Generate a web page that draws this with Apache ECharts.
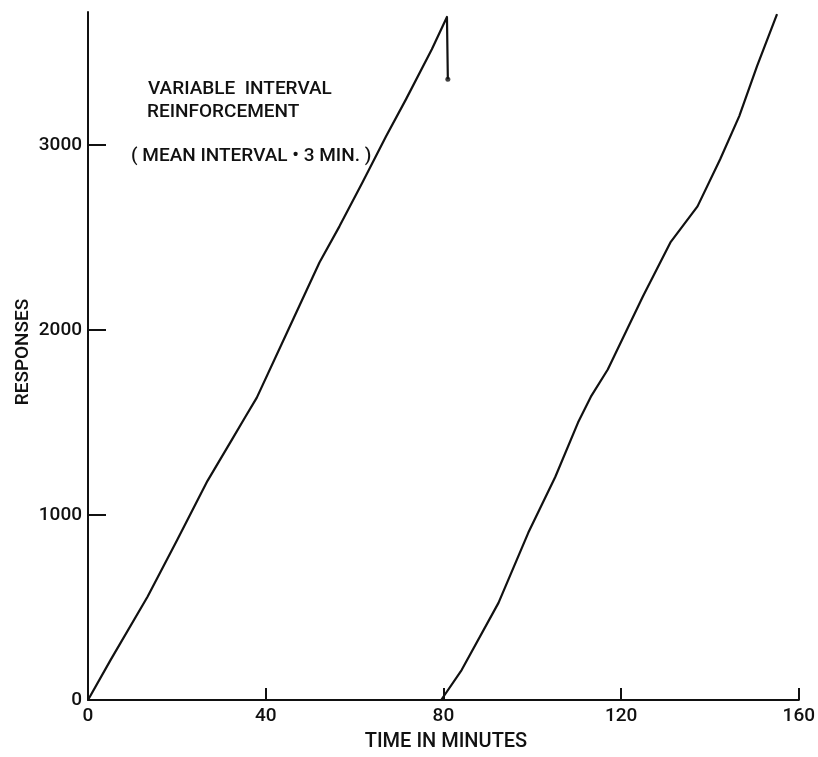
<!DOCTYPE html>
<html>
<head>
<meta charset="utf-8">
<style>html,body{margin:0;padding:0;background:#fff}#c{width:818px;height:757px}</style>
<script src="https://cdn.jsdelivr.net/npm/echarts@6/dist/echarts.min.js"></script>
</head>
<body>
<div id="c"></div>
<script>
// Session 1 (first 80 min) — time in minutes, cumulative responses
const session1Time = [0, 5.1, 13.4, 20.1, 26.9, 32.7, 35.4, 38.0, 44.8, 52.1, 56.6, 61.8, 67.1, 71.6, 77.4, 80.8, 81.0];
const session1Resp = [0, 217, 558, 866, 1185, 1420, 1530, 1635, 1987, 2366, 2561, 2799, 3048, 3249, 3519, 3693, 3357];
// Session 2 (second 80 min)
const session2Time = [79.5, 84.1, 92.4, 99.1, 105.2, 110.3, 113.2, 117.0, 124.9, 131.1, 137.2, 142.3, 146.6, 150.6, 155.1];
const session2Resp = [0, 162, 525, 904, 1207, 1500, 1640, 1787, 2182, 2474, 2669, 2924, 3157, 3427, 3709];
// Pen reset marker (end of the downward stroke)
const resetTime = [81.0];
const resetResp = [3357];
// Ticks
const xTicks = [0, 40, 80, 120, 160];
const yTicks = [0, 1000, 2000, 3000];
const annotationLines = ["VARIABLE  INTERVAL", "REINFORCEMENT", "( MEAN INTERVAL • 3 MIN. )"];
const xTitle = "TIME IN MINUTES";
const yTitle = "RESPONSES";

const zip = (a, b) => a.map((v, i) => [v, b[i]]);
const font = "Roboto";
const ink = "#111";
const txt = (size) => '500 ' + size + 'px ' + font;

const chart = echarts.init(document.getElementById('c'), null, {renderer: 'canvas'});
chart.setOption({
  backgroundColor: '#fff',
  animation: false,
  grid: {left: 88, right: 16, top: 12, bottom: 57},
  xAxis: {
    type: 'value', min: 0, max: 160, interval: 40,
    axisLine: {show: true, onZero: false, lineStyle: {color: ink, width: 2}},
    axisTick: {show: true, inside: true, length: 12, lineStyle: {color: ink, width: 2}, customValues: xTicks},
    axisLabel: {color: ink, fontFamily: font, fontWeight: 500, fontSize: 19, margin: 7, customValues: xTicks,
                formatter: v => String(v)},
    splitLine: {show: false}
  },
  yAxis: {
    type: 'value', min: 0, max: 3720,
    axisLine: {show: true, onZero: false, lineStyle: {color: ink, width: 2}},
    axisTick: {show: true, inside: true, length: 18, lineStyle: {color: ink, width: 2}, customValues: yTicks.filter(v => v > 0)},
    axisLabel: {color: ink, fontFamily: font, fontWeight: 500, fontSize: 19, margin: 6, customValues: yTicks,
                formatter: v => String(v)},
    splitLine: {show: false}
  },
  series: [
    {type: 'line', data: zip(session1Time, session1Resp), symbol: 'none',
     lineStyle: {color: ink, width: 2.2, join: 'round'}},
    {type: 'line', data: zip(session2Time, session2Resp), symbol: 'none',
     lineStyle: {color: ink, width: 2.2, join: 'round'}},
    {type: 'scatter', data: zip(resetTime, resetResp), symbol: 'circle', symbolSize: 5,
     itemStyle: {color: ink}}
  ],
  graphic: [
    {type: 'text', left: 148, top: 80, style: {text: annotationLines[0], fill: ink, font: txt(19)}},
    {type: 'text', left: 147, top: 103, style: {text: annotationLines[1], fill: ink, font: txt(19)}},
    {type: 'text', left: 131, top: 147, style: {text: annotationLines[2], fill: ink, font: txt(19)}},
    {type: 'text', x: 446, y: 742, style: {text: xTitle, fill: ink, font: txt(20), align: 'center', verticalAlign: 'middle'}},
    {type: 'text', x: 23, y: 352, rotation: Math.PI / 2, style: {text: yTitle, fill: ink, font: txt(19), align: 'center', verticalAlign: 'middle'}}
  ]
});
</script>
</body>
</html>
